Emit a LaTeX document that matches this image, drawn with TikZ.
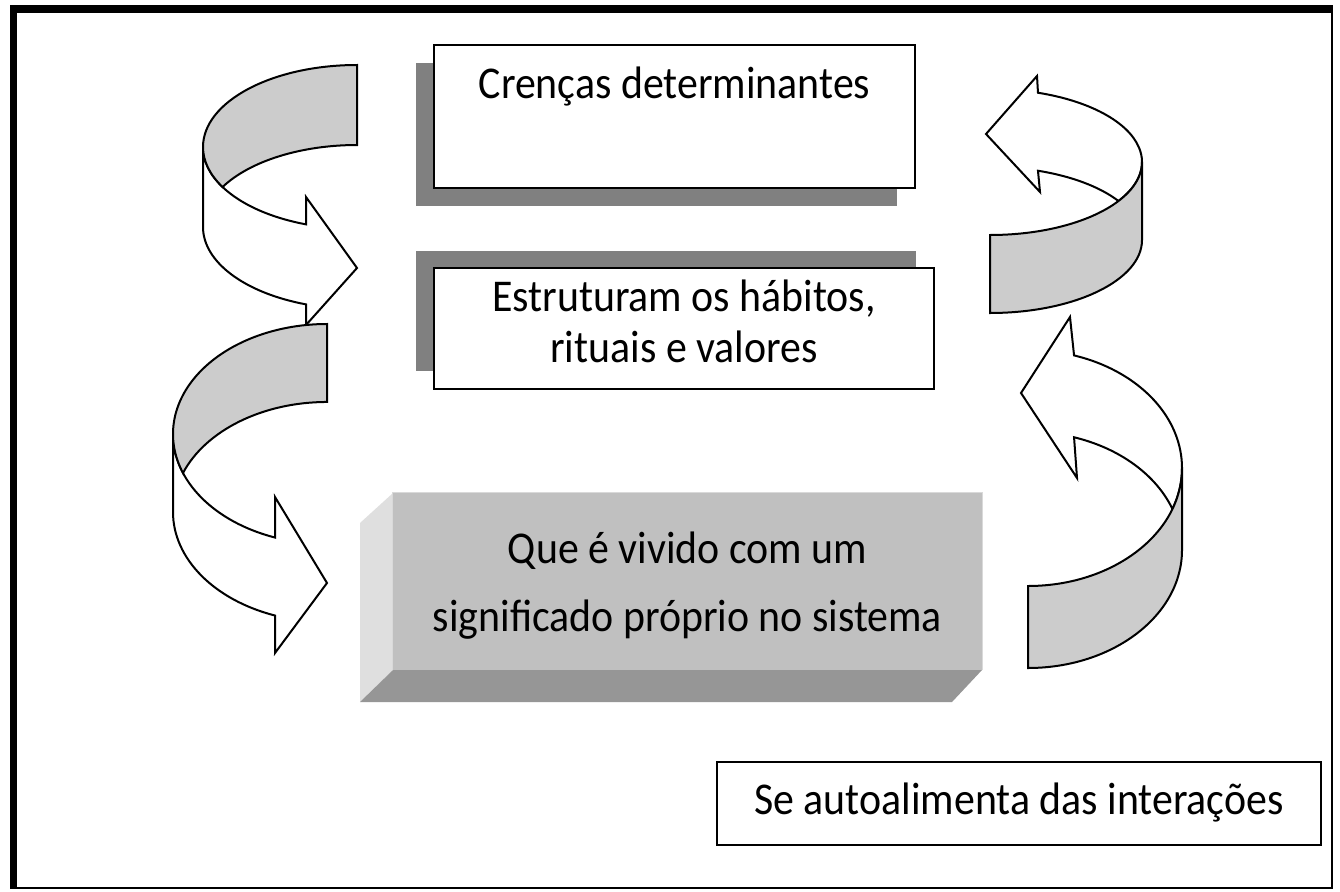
\documentclass[tikz,border=0pt]{standalone}
\usepackage{fontspec}
\setmainfont{Carlito}
\newfontfamily\tallfont[FakeStretch=0.92]{Carlito}
\usetikzlibrary{calc}
\definecolor{ribgrey}{HTML}{CCCCCC}
\definecolor{shadowgrey}{HTML}{808080}
\definecolor{frontgrey}{HTML}{C0C0C0}
\definecolor{leftgrey}{HTML}{DFDFDF}
\definecolor{bottomgrey}{HTML}{969696}
\begin{document}
\begin{tikzpicture}[x=1pt,y=-1pt,
  ribW/.style={draw=black,fill=white,line width=2pt,line join=miter},
  ribG/.style={draw=black,fill=ribgrey,line width=2pt,line join=miter},
  boxw/.style={draw=black,fill=white,line width=2pt,inner sep=0pt},
  txt/.style={font=\tallfont\fontsize{45.5}{51}\selectfont,align=center,inner sep=0pt},
  shad/.style={fill=shadowgrey}]
\useasboundingbox (0,0) rectangle (1340,891);
\fill[white] (0,0) rectangle (1340,891);
% frame
\fill[black] (10,5) rectangle (1333,13);
\fill[black] (10,5) rectangle (17,889);
\fill[black] (1330.5,5) rectangle (1333,889);
\fill[black] (10,886.5) rectangle (1333,889);

% box 1
\fill[shad] (416,63) rectangle (897,206);
\node[boxw,minimum width=481pt,minimum height=143pt] (b1) at (674.5,116.5) {};
\node[txt] (t1) at (674.5,87) {Crenças determinantes};

% box 2
\fill[shad] (416,251) rectangle (916,371);
\node[boxw,minimum width=500pt,minimum height=121pt] (b2) at (684,328.5) {};
\node[txt] (t2) at (684,321) {Estruturam os hábitos,\\rituais e valores};

% bevel box 3
\fill[leftgrey] (360,523) -- (393,493) -- (393,670) -- (360,702) -- cycle;
\fill[bottomgrey] (360,702) -- (393,670) -- (982,670) -- (952,702) -- cycle;
\node[fill=frontgrey,minimum width=589pt,minimum height=177pt,inner sep=0pt] (b3) at (687.5,581.5) {};
\draw[white!85!black,line width=1pt] (b3.south west) -- (b3.north west) -- (b3.north east) -- (b3.south east);
\node[txt,font=\tallfont\fontsize{45.5}{68}\selectfont] (t3) at (687.5,586) {Que é vivido com um\\significado próprio no sistema};

% box 4
\node[draw=black,line width=1.5pt,fill=white,minimum width=604pt,minimum height=83pt,inner sep=0pt] (b4) at (1019,803.5) {};
\node[txt] (t4) at (1019,803) {Se autoalimenta das interações};

% left upper ribbon arrow
\draw[ribW] ($(357,147)+(180:154 and 82)$) -- ($(357,227)+(180:154 and 82)$)
  arc[start angle=180,end angle=109.3,x radius=154,y radius=82]
  -- (306,325) -- (357,268) -- (306,197)
  -- ($(357,147)+(109.3:154 and 82)$)
  arc[start angle=109.3,end angle=180,x radius=154,y radius=82] -- cycle;
\draw[ribG] ($(357,147)+(270:154 and 82)$)
  arc[start angle=270,end angle=150.8,x radius=154,y radius=82]
  arc[start angle=209.2,end angle=270,x radius=154,y radius=82] -- cycle;

% left lower ribbon arrow
\draw[ribW] ($(327,434)+(180:154 and 110)$) -- ($(327,512)+(180:154 and 110)$)
  arc[start angle=180,end angle=109.7,x radius=154,y radius=110]
  -- (275,653) -- (327,583) -- (275,497)
  -- ($(327,434)+(109.7:154 and 110)$)
  arc[start angle=109.7,end angle=180,x radius=154,y radius=110] -- cycle;
\draw[ribG] ($(327,434)+(270:154 and 110)$)
  arc[start angle=270,end angle=159.24,x radius=154,y radius=110]
  arc[start angle=200.76,end angle=270,x radius=154,y radius=110] -- cycle;

% right upper ribbon arrow
\draw[ribW] ($(990,162)+(288.4:152 and 73)$)
  arc[start angle=288.4,end angle=392.3,x radius=152,y radius=73]
  arc[start angle=327.7,end angle=288.4,x radius=152,y radius=73]
  -- (1040,192) -- (986,134) -- (1037,76) -- cycle;
\draw[ribG] ($(990,162)+(0:152 and 73)$)
  arc[start angle=0,end angle=90,x radius=152,y radius=73]
  -- ($(990,240)+(90:152 and 73)$)
  arc[start angle=90,end angle=0,x radius=152,y radius=73] -- cycle;

% right lower ribbon arrow
\draw[ribW] ($(1028,468)+(287.4:154 and 118)$)
  arc[start angle=287.4,end angle=380.3,x radius=154,y radius=118]
  arc[start angle=339.7,end angle=287.4,x radius=154,y radius=118]
  -- (1077,478) -- (1021,393) -- (1070,317) -- cycle;
\draw[ribG] ($(1028,468)+(0:154 and 118)$)
  arc[start angle=0,end angle=90,x radius=154,y radius=118]
  -- ($(1028,550)+(90:154 and 118)$)
  arc[start angle=90,end angle=0,x radius=154,y radius=118] -- cycle;
\end{tikzpicture}
\end{document}
